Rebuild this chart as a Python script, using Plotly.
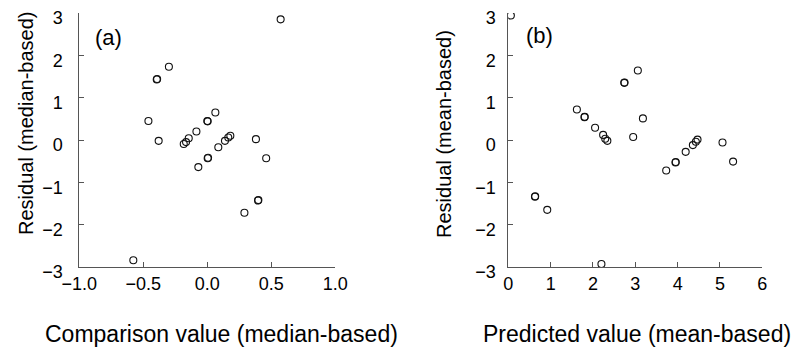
import plotly.graph_objects as go

# Panel (a): residual vs comparison value (median-based)
a_x = [0.573, -0.395, -0.392, -0.30, -0.46, 0.0, 0.003, 0.063, -0.085, -0.38,
       -0.184, -0.166, -0.145, 0.003, 0.006, -0.07, 0.086, 0.138, 0.164, 0.18,
       0.38, 0.46, 0.396, 0.399, 0.29, -0.578]
a_y = [2.85, 1.43, 1.44, 1.73, 0.45, 0.45, 0.44, 0.65, 0.20, -0.02,
       -0.095, -0.05, 0.04, -0.43, -0.42, -0.64, -0.17, -0.02, 0.06, 0.10,
       0.02, -0.43, -1.43, -1.42, -1.72, -2.84]

# Panel (b): residual vs predicted value (mean-based)
b_x = [0.06, 2.74, 2.745, 3.06, 3.18, 1.62, 1.80, 1.805, 2.05, 2.24,
       2.29, 2.34, 2.95, 3.73, 3.95, 3.955, 4.19, 4.36, 4.43, 4.47,
       5.06, 5.31, 0.63, 0.635, 0.92, 2.20]
b_y = [2.94, 1.35, 1.36, 1.64, 0.51, 0.72, 0.54, 0.55, 0.29, 0.12,
       0.03, -0.02, 0.07, -0.72, -0.53, -0.52, -0.28, -0.12, -0.04, 0.01,
       -0.06, -0.51, -1.34, -1.33, -1.65, -2.93]

y_ticks = [-3, -2, -1, 0, 1, 2, 3]
a_xticks = [-1.0, -0.5, 0.0, 0.5, 1.0]
b_xticks = [0, 1, 2, 3, 4, 5, 6]

W, H = 794, 351
FONT = "Liberation Sans, Arial, sans-serif"
AXC = "#555555"

def px(x):
    return x / W

def py(y):
    return 1 - y / H

marker = dict(symbol="circle-open", size=7, color="#111111", line=dict(width=1.1))

fig = go.Figure()
fig.add_trace(go.Scatter(x=a_x, y=a_y, mode="markers", marker=marker,
                         xaxis="x", yaxis="y", showlegend=False))
fig.add_trace(go.Scatter(x=b_x, y=b_y, mode="markers", marker=marker,
                         xaxis="x2", yaxis="y2", showlegend=False))

common = dict(showline=True, linecolor=AXC, linewidth=1, ticks="inside",
              ticklen=5, tickcolor=AXC, tickwidth=1, showgrid=False,
              zeroline=False, tickfont=dict(family=FONT, size=18, color="#000"))

ydom = [py(267), py(13)]
fig.update_layout(
    width=W, height=H,
    margin=dict(l=0, r=0, t=0, b=0, autoexpand=False),
    paper_bgcolor="white", plot_bgcolor="white",
    font=dict(family=FONT, color="#000"),
    xaxis=dict(domain=[px(79.3), px(335.3)], range=[-1, 1], tickvals=a_xticks,
               tickformat=".1f", anchor="y", ticklabelstandoff=0, **common),
    yaxis=dict(domain=ydom, range=[-3, 3], tickvals=y_ticks, anchor="x",
               ticklabelstandoff=12, ticklabelshift=5, **common),
    xaxis2=dict(domain=[px(508.3), px(762.3)], range=[0, 6], tickvals=b_xticks,
                anchor="y2", ticklabelstandoff=0, **common),
    yaxis2=dict(domain=ydom, range=[-3, 3], tickvals=y_ticks, anchor="x2",
                ticklabelstandoff=8, ticklabelshift=5, **common),
)

def ann(text, x, y, size, angle=0):
    fig.add_annotation(text=text, x=px(x), y=py(y), xref="paper", yref="paper",
                       showarrow=False, xanchor="center", yanchor="middle",
                       textangle=angle, font=dict(family=FONT, size=size, color="#000"))

ann("Comparison value (median-based)", 221, 334, 23)
ann("Predicted value (mean-based)", 637, 334, 23)
ann("Residual (median-based)", 26, 124, 20, -90)
ann("Residual (mean-based)", 444, 134, 20, -90)
ann("(a)", 108, 37, 22)
ann("(b)", 539, 35, 22)

fig.write_html("out.html",
               config={"displayModeBar": False},
               post_script="document.body.style.margin='0';document.body.style.overflow='hidden';")
